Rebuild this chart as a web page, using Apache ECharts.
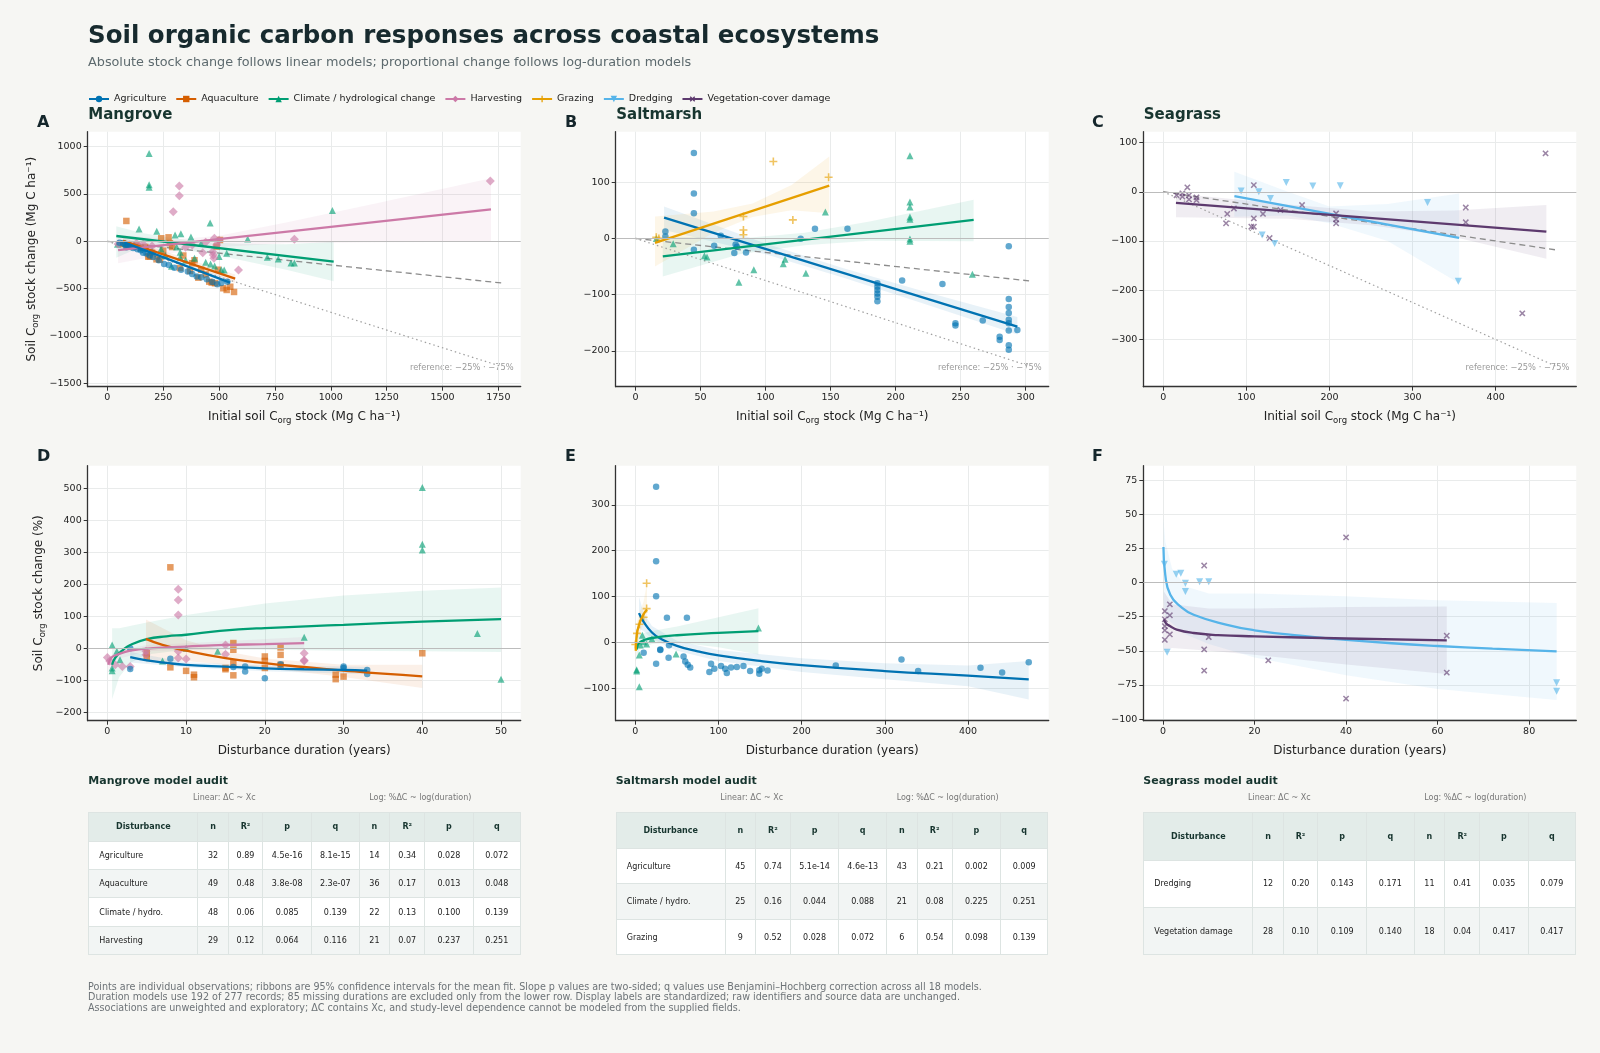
<!DOCTYPE html>
<html>
<head>
<meta charset="utf-8">
<title>Soil organic carbon responses across coastal ecosystems</title>
<script src="https://cdn.jsdelivr.net/npm/echarts@6.0.0/dist/echarts.min.js"></script>
<style>
  html, body { margin: 0; padding: 0; background: #f6f6f3; }
  body { width: 1600px; height: 1053px; position: relative; overflow: hidden; font-family: "DejaVu Sans", sans-serif; }
  #chart { position: absolute; left: 0; top: 0; width: 1600px; height: 1053px; }
  .audit { position: absolute; top: 770px; width: 432px; height: 190px; }
  .audit .ttl { position: absolute; left: 0; top: 4px; font-size: 11px; line-height: 14px; font-weight: bold; color: #17352f; white-space: nowrap; }
  .audit .cap { position: absolute; top: 23px; width: 180px; text-align: center; font-size: 8px; line-height: 10px; color: #777; }
  .audit table { position: absolute; left: 0; top: 42.3px; width: 432px; height: 143px; border-collapse: collapse; table-layout: fixed; }
  .audit th, .audit td { border: 1px solid #dde4e2; font-size: 8px; text-align: center; padding: 0; }
  .audit th { background: #e3ece9; color: #17352f; font-weight: bold; }
  .audit td { color: #222; background: #fff; }
  .audit tr.alt td { background: #f2f5f4; }
  .audit td.name { text-align: left; padding-left: 10px; }
  #foot { position: absolute; left: 88px; top: 981.5px; font-size: 9.6px; line-height: 10.5px; color: #6d7377; white-space: nowrap; }
</style>
</head>
<body>
<div id="chart"></div>
<div id="audits"></div>
<div id="foot">
  Points are individual observations; ribbons are 95% confidence intervals for the mean fit. Slope p values are two-sided; q values use Benjamini–Hochberg correction across all 18 models.<br>
  Duration models use 192 of 277 records; 85 missing durations are excluded only from the lower row. Display labels are standardized; raw identifiers and source data are unchanged.<br>
  Associations are unweighted and exploratory; ΔC contains Xc, and study-level dependence cannot be modeled from the supplied fields.
</div>
<script>
// ---------------- data ----------------
var legendNames = ['Agriculture', 'Aquaculture', 'Climate / hydrological change', 'Harvesting', 'Grazing', 'Dredging', 'Vegetation-cover damage'];
var legendKeys = ['agri', 'aqua', 'clim', 'harv', 'graz', 'dredge', 'veg'];

// A - Mangrove, absolute change vs initial stock
var mgAgriPts = [[55,-14],[70,-20],[80,-35],[85,-63],[95,-45],[105,-55],[115,-70],[125,-60],[135,-85],[150,-95],[160,-120],[175,-130],[190,-150],[205,-165],[230,-200],[254,-239],[275,-250],[300,-280],[330,-300],[360,-320],[380,-345],[400,-373],[420,-380],[445,-400],[470,-430],[492,-454],[510,-440],[537,-426]];
var mgAquaPts = [[85,215],[70,-30],[90,-40],[110,-50],[130,-45],[150,-70],[170,-60],[183,-162],[190,-160],[200,-120],[220,-190],[235,-194],[241,32],[250,-100],[274,42],[280,-20],[290,-60],[325,-282],[340,-150],[370,-313],[380,-232],[390,-200],[407,-384],[420,-300],[440,-350],[456,-426],[467,-436],[482,-443],[489,-56],[495,-300],[504,14],[519,-496],[534,-514],[550,-480],[567,-535]];
var mgClimPts = [[45,-30],[80,-20],[120,-40],[142,130],[160,-70],[187,929],[187,597],[187,572],[200,-100],[221,105],[240,-80],[260,-150],[287,-263],[303,67],[310,-60],[326,-116],[326,-168],[329,81],[350,-200],[374,46],[390,-180],[420,-20],[440,-220],[460,193],[462,-239],[480,-260],[500,-160],[510,-300],[523,-303],[534,-127],[628,25],[716,-168],[765,-186],[822,-228],[837,-228],[1007,326]];
var mgHarvPts = [[48,-28],[100,-40],[130,-20],[160,-30],[200,-50],[295,313],[322,584],[322,482],[350,-63],[380,-40],[427,-120],[440,-10],[471,-109],[474,-144],[477,-180],[479,32],[489,-39],[500,10],[587,-303],[837,21],[1714,637]];
var mgAgriFit = [[75,-11],[549,-436]];
var mgAquaFit = [[70,4],[572,-394]];
var mgClimFit = [[40,56],[1013,-215]];
var mgHarvFit = [[48,-92],[1717,338]];
var mgAgriBand = [[75,-40,20],[300,-225,-190],[549,-470,-400]];
var mgAquaBand = [[70,-30,40],[300,-180,-140],[572,-440,-350]];
var mgClimBand = [[40,-175,158],[150,-60,90],[300,-75,30],[450,-130,-10],[600,-200,-25],[800,-300,-30],[1013,-421,-5]];
var mgHarvBand = [[48,-232,67],[300,-120,20],[500,-60,60],[800,-20,200],[1200,-10,400],[1717,-4,665]];
var mgRef25 = [[0,0],[1766,-441]];
var mgRef75 = [[0,0],[1766,-1324]];

// B - Saltmarsh
var smAgriPts = [[23,12.5],[23,3.6],[44.9,152],[44.9,80],[44.9,45],[44.9,-20],[60.5,-13],[65.6,4.8],[76,-26],[77,-11],[78,-15],[85,-25],[127,-0.6],[138,17],[163,17],[186,-80],[186,-86],[186,-92],[186,-98],[186,-104],[186,-112],[205,-75],[236,-81],[246,-151],[246,-155],[267,-146],[280,-175],[280,-181],[287,-14],[287,-108],[287,-122],[287,-133],[287,-145],[287,-151],[287,-164],[287,-190],[287,-198],[293.6,-163]];
var smClimPts = [[16,0],[29,-9.5],[53,-31],[55,-33],[79.5,-78],[91,-56],[113.6,-45],[115,-37],[131,-62],[146,47],[211,147],[211,65],[211,56],[211,38],[211,34],[211,-1],[211,-5],[259,-64]];
var smGrazPts = [[16,2],[18,0],[83,39],[83,15],[83,6.5],[106,137],[121,33],[148.5,109]];
var smAgriFit = [[22,37],[293.6,-157]];
var smClimFit = [[21,-32],[260,33]];
var smGrazFit = [[15,-8],[149,94]];
var smAgriBand = [[22,15,57],[100,-28,-9],[160,-70,-53],[220,-115,-93],[293.6,-171,-140]];
var smClimBand = [[21,-68,4],[80,-28,0],[130,-12,10],[180,-4,30],[260,-5,69]];
var smGrazBand = [[15,-50,39],[60,10,48],[90,38,62],[120,50,95],[149,45,146]];
var smRef25 = [[0,0],[302.6,-75.6]];
var smRef75 = [[0,0],[302.6,-227]];

// C - Seagrass
var sgDredgePts = [[93.7,1.4],[115,0],[119,-88],[129,-13.6],[134,-105],[148,19],[180,11.5],[213,12],[318,-22],[355,-182]];
var sgVegPts = [[16,-7],[23,-3.4],[23,-10],[29,9],[31,-7],[31,-15.6],[40,-11.5],[40,-17],[75.6,-64],[77,-45],[85,-34],[106,-71],[109,13.6],[109,-54],[109,-71],[120,-45],[128,-94],[141,-37],[167,-27],[208,-44],[208,-56],[208,-64],[364,-32],[364,-62],[432,-247],[460,78]];
var sgDredgeFit = [[85.6,-8.8],[356,-93.6]];
var sgVegFit = [[15.3,-22.4],[461,-81]];
var sgDredgeBand = [[85.6,-51,40.7],[150,-48,0],[200,-64,-30],[270,-100,-25],[356,-186,-3.4]];
var sgVegBand = [[15.3,-52,-3.4],[150,-55,-26],[250,-68,-40],[350,-92,-38],[461,-136,-27]];
var sgRef25 = [[0,0],[472,-118]];
var sgRef75 = [[0,0],[472,-354]];

// D - Mangrove, % change vs duration
var mdAgriPts = [[2.9,0],[2.9,-65],[8,-33],[16,-59],[17.5,-57],[17.5,-73],[20,-94],[22,-50],[30,-57],[30,-62],[33,-68],[33,-81]];
var mdAquaPts = [[5,-16],[5,-29],[8,253],[8,-60],[10,-71],[11,-83],[11,-91],[15,-62],[15,-66],[16,16],[16,-5],[16,-47],[16,-85],[20,-26],[20,-40],[20,-62],[22,2],[22,-21],[22,-52],[29,-83],[29,-97],[30,-89],[40,-16]];
var mdClimPts = [[0.6,10],[0.6,-62],[0.6,-71],[1.2,-10],[1.6,-36],[7,-40],[10,0],[14,-10],[25,34],[40,503],[40,325],[40,307],[47,46],[50,-97]];
var mdHarvPts = [[0,-29],[0.3,-40],[1,-52],[1.9,-57],[2.9,-57],[4.9,-21],[4.9,-10],[9,184],[9,151],[9,104],[9,-10],[9,-31],[10,-34],[15,10],[15,-19],[25,-16],[25,-40],[25,-38]];
var mdAgriFit = [[2.9,-28],[5,-38],[7.5,-46],[10,-52],[15,-58],[20,-63],[25,-66],[30,-68],[33,-70]];
var mdAquaFit = [[4.9,29],[7,10],[10,-8],[15,-31],[20,-47],[25,-59],[30,-70],[35,-80],[40,-88]];
var mdClimFit = [[0.6,-52],[1,-30],[2,-5],[2.9,10],[5,28],[7.5,37],[10,42],[14.3,54],[20,63],[30,73],[40,83],[50,91]];
var mdHarvFit = [[0.1,-52],[0.5,-30],[1.2,-21],[2.9,-8],[5.8,0],[10,5],[15,10],[20,12.5],[25,16]];
var mdAgriBand = [[2.9,-45,-12],[10,-60,-44],[20,-72,-54],[33,-82,-58]];
var mdAquaBand = [[4.9,-45,90],[10,-40,25],[15,-52,-10],[20,-62,-32],[30,-90,-52],[40,-125,-52]];
var mdClimBand = [[0.6,-160,62],[1.5,-90,62],[3,-45,70],[5,-20,80],[10,-5,104],[20,-5,140],[30,-8,165],[40,-10,180],[50,-12,190]];
var mdHarvBand = [[0.1,-75,-30],[1.2,-35,-8],[5,-10,10],[10,-5,15],[25,-2,35]];

// E - Saltmarsh, % change vs duration
var seAgriPts = [[10,-22],[25,339],[25,177],[25,101],[25,-46],[30,-15],[30,-16],[38,54],[40,-33],[40.5,-6],[58,-30],[60,-41],[62,54],[63,-48],[66,-54],[89,-64],[91,-46],[95,-57],[103,-51],[108,-57],[110,-66],[115,-54],[122,-53],[130,-51],[138,-62],[149,-60],[149,-68],[152,-57],[159,-61],[241,-50],[320,-37],[340,-62],[415,-55],[441,-65],[473,-43]];
var seClimPts = [[1.6,-59],[1.6,-62],[4.8,-96],[4.8,-27],[6,-5],[8.4,16],[10,2],[13.6,-3],[20,8],[49,-25],[148,32]];
var seGrazPts = [[0,-4],[2,20],[5,40],[10,55],[13.6,129],[13.6,74]];
var seAgriFit = [[4.4,64],[10,45],[20,22],[30,9],[50,-7],[75,-19],[100,-28],[150,-40],[200,-49],[300,-62],[400,-72],[473,-80]];
var seClimFit = [[1.5,-15],[3,-5],[5,0],[10,5],[20,10],[50,16],[100,21],[148,25]];
var seGrazFit = [[0.5,-18],[1,0],[2,20],[5,42],[10,62],[14,72]];
var seAgriBand = [[4.4,30,100],[10,25,65],[20,8,36],[50,-18,4],[100,-40,-16],[200,-64,-34],[300,-80,-45],[400,-95,-50],[473,-124,-40]];
var seClimBand = [[1.5,-40,30],[5,-15,18],[20,-3,25],[50,0,35],[100,-10,55],[148,-26,75]];
var seGrazBand = [[0.5,-45,10],[2,-5,45],[5,20,65],[10,40,90],[14,45,130]];

// F - Seagrass, % change vs duration
var sfDredgePts = [[0.3,13.4],[0.9,-51],[2.9,6],[3.9,6.8],[4.9,-0.5],[4.9,-6.6],[8,0.5],[10,0.5],[86,-73.5],[86,-79.6]];
var sfVegPts = [[0.4,-21],[0.4,-27],[0.4,-32],[0.4,-35],[0.4,-42],[1.5,-16],[1.5,-24],[1.5,-38],[9,12.4],[9,-49],[9,-64.5],[10,-40],[23,-57],[40,33],[40,-85],[62,-39],[62,-66]];
var sfDredgeFit = [[0.1,26],[0.5,5.6],[1.6,-9],[3.8,-17.5],[6.7,-23.6],[14,-31],[20,-35],[30,-39],[40,-42],[50,-44.5],[60,-46.5],[72,-48.5],[86,-50.5]];
var sfVegFit = [[0.2,-27],[0.7,-30],[1.6,-32],[3,-34.5],[6.7,-37],[12,-38.5],[20,-39.4],[40,-41],[62,-42.4]];
var sfDredgeBand = [[0.1,-12,47],[0.5,-25,30],[2,-30,10],[5,-38,-3],[10,-45,-8],[20,-55,-8],[40,-68,-10],[60,-78,-13],[86,-86,-15]];
var sfVegBand = [[0.2,-50,-6.6],[2,-48,-16],[10,-50,-19],[20,-53,-19],[40,-60,-18],[62,-67,-17.5]];

// tick labels
var ticksAx = [0,250,500,750,1000,1250,1500,1750], ticksAy = [-1500,-1000,-500,0,500,1000];
var ticksBx = [0,50,100,150,200,250,300], ticksBy = [-200,-100,0,100];
var ticksCx = [0,100,200,300,400], ticksCy = [-300,-200,-100,0,100];
var ticksDx = [0,10,20,30,40,50], ticksDy = [-200,-100,0,100,200,300,400,500];
var ticksEx = [0,100,200,300,400], ticksEy = [-100,0,100,200,300];
var ticksFx = [0,20,40,60,80], ticksFy = [-100,-75,-50,-25,0,25,50,75];

// audit tables
var auditHead = ['Disturbance','n','R²','p','q','n','R²','p','q'];
var mangroveAudit = [
  ['Agriculture','32','0.89','4.5e-16','8.1e-15','14','0.34','0.028','0.072'],
  ['Aquaculture','49','0.48','3.8e-08','2.3e-07','36','0.17','0.013','0.048'],
  ['Climate / hydro.','48','0.06','0.085','0.139','22','0.13','0.100','0.139'],
  ['Harvesting','29','0.12','0.064','0.116','21','0.07','0.237','0.251']
];
var saltmarshAudit = [
  ['Agriculture','45','0.74','5.1e-14','4.6e-13','43','0.21','0.002','0.009'],
  ['Climate / hydro.','25','0.16','0.044','0.088','21','0.08','0.225','0.251'],
  ['Grazing','9','0.52','0.028','0.072','6','0.54','0.098','0.139']
];
var seagrassAudit = [
  ['Dredging','12','0.20','0.143','0.171','11','0.41','0.035','0.079'],
  ['Vegetation damage','28','0.10','0.109','0.140','18','0.04','0.417','0.417']
];

// ---------------- styles ----------------
var FONT = '"DejaVu Sans", sans-serif';
var plusPath = 'path://M4,0h2v4h4v2h-4v4h-2v-4h-4v-2h4z';
var look = {
  agri:   { color: '#0072B2', symbol: 'circle',   size: 6.5, rotate: 0 },
  aqua:   { color: '#D55E00', symbol: 'rect',     size: 6.5, rotate: 0 },
  clim:   { color: '#009E73', symbol: 'triangle', size: 7,   rotate: 0 },
  harv:   { color: '#CC79A7', symbol: 'diamond',  size: 9,   rotate: 0 },
  graz:   { color: '#E69F00', symbol: plusPath,   size: 8,   rotate: 0 },
  dredge: { color: '#56B4E9', symbol: 'triangle', size: 7,   rotate: 180 },
  veg:    { color: '#5D3A6E', symbol: plusPath,   size: 7.5, rotate: 45 }
};

var colLeft = [87.7, 615.7, 1143.3];
var rowTop = [131.7, 465.7];
var gridW = 433, gridH = 255;

var panels = [
  { letter: 'A', title: 'Mangrove',  row: 0, col: 0, x: [-88, 1850], y: [-1536, 1158], xt: ticksAx, yt: ticksAy, refs: [mgRef25, mgRef75],
    groups: [['aqua', mgAquaPts, mgAquaFit, mgAquaBand], ['clim', mgClimPts, mgClimFit, mgClimBand], ['harv', mgHarvPts, mgHarvFit, mgHarvBand], ['agri', mgAgriPts, mgAgriFit, mgAgriBand]] },
  { letter: 'B', title: 'Saltmarsh', row: 0, col: 1, x: [-15.2, 317.7], y: [-264, 190], xt: ticksBx, yt: ticksBy, refs: [smRef25, smRef75],
    groups: [['agri', smAgriPts, smAgriFit, smAgriBand], ['clim', smClimPts, smClimFit, smClimBand], ['graz', smGrazPts, smGrazFit, smGrazBand]] },
  { letter: 'C', title: 'Seagrass',  row: 0, col: 2, x: [-24, 497], y: [-396, 122], xt: ticksCx, yt: ticksCy, refs: [sgRef25, sgRef75],
    groups: [['dredge', sgDredgePts, sgDredgeFit, sgDredgeBand], ['veg', sgVegPts, sgVegFit, sgVegBand]] },
  { letter: 'D', row: 1, col: 0, x: [-2.5, 52.5], y: [-227, 571], xt: ticksDx, yt: ticksDy, refs: [],
    groups: [['clim', mdClimPts, mdClimFit, mdClimBand], ['aqua', mdAquaPts, mdAquaFit, mdAquaBand], ['harv', mdHarvPts, mdHarvFit, mdHarvBand], ['agri', mdAgriPts, mdAgriFit, mdAgriBand]] },
  { letter: 'E', row: 1, col: 1, x: [-23.6, 497], y: [-170, 385], xt: ticksEx, yt: ticksEy, refs: [],
    groups: [['agri', seAgriPts, seAgriFit, seAgriBand], ['clim', seClimPts, seClimFit, seClimBand], ['graz', seGrazPts, seGrazFit, seGrazBand]] },
  { letter: 'F', row: 1, col: 2, x: [-4.3, 90.3], y: [-101.2, 85.5], xt: ticksFx, yt: ticksFy, refs: [],
    groups: [['dredge', sfDredgePts, sfDredgeFit, sfDredgeBand], ['veg', sfVegPts, sfVegFit, sfVegBand]] }
];

function fmt(v) { return v < 0 ? '\u2212' + Math.abs(v) : String(v); }

var nameRich = {
  n:   { fontSize: 12, fontFamily: FONT, color: '#222', lineHeight: 18 },
  sub: { fontSize: 8.5, fontFamily: FONT, color: '#222', lineHeight: 12, verticalAlign: 'bottom' }
};
var stockName = '{n|Initial soil C}{sub|org}{n| stock (Mg C ha\u207b\u00b9)}';

function baseAxis(range, ticks) {
  return {
    type: 'value', min: range[0], max: range[1],
    axisLine: { show: true, onZero: false, lineStyle: { color: '#333', width: 1.3 } },
    axisTick: { show: true, length: 4, customValues: ticks, lineStyle: { color: '#333', width: 1 } },
    axisLabel: { customValues: ticks, formatter: fmt, fontSize: 9.5, fontFamily: FONT, color: '#222', margin: 6 },
    splitLine: { show: true, lineStyle: { color: '#e9ebeb', width: 1 } },
    nameTextStyle: { rich: nameRich }
  };
}

var grids = [], xAxes = [], yAxes = [], series = [], graphics = [];

// legend-only series
legendKeys.forEach(function (k, i) {
  var s = look[k];
  series.push({
    type: 'line', name: legendNames[i], xAxisIndex: 0, yAxisIndex: 0, data: [],
    symbol: s.symbol, symbolSize: 7, symbolRotate: s.rotate, showSymbol: true,
    itemStyle: { color: s.color }, lineStyle: { color: s.color, width: 2 }
  });
});

function bandSeries(gi, rows, color) {
  return {
    type: 'custom', xAxisIndex: gi, yAxisIndex: gi, silent: true, z: 1, clip: true,
    data: rows, encode: { x: 0, y: [1, 2] },
    renderItem: function (params, api) {
      if (params.dataIndex !== 0) return null;
      var top = rows.map(function (r) { return api.coord([r[0], r[2]]); });
      var bot = rows.slice().reverse().map(function (r) { return api.coord([r[0], r[1]]); });
      return { type: 'polygon', shape: { points: top.concat(bot) }, style: { fill: color, opacity: 0.09 } };
    }
  };
}

panels.forEach(function (p, gi) {
  var left = colLeft[p.col], top = rowTop[p.row];
  grids.push({ left: left, top: top, width: gridW, height: gridH, show: true, backgroundColor: '#ffffff', borderWidth: 0, outerBoundsMode: 'none' });

  var xa = baseAxis(p.x, p.xt); xa.gridIndex = gi;
  xa.name = p.row === 0 ? stockName : '{n|Disturbance duration (years)}';
  xa.nameLocation = 'middle'; xa.nameGap = 21;
  xAxes.push(xa);

  var ya = baseAxis(p.y, p.yt); ya.gridIndex = gi;
  if (p.col === 0) {
    ya.name = p.row === 0 ? '{n|Soil C}{sub|org}{n| stock change (Mg C ha\u207b\u00b9)}' : '{n|Soil C}{sub|org}{n| stock change (%)}';
    ya.nameLocation = 'middle'; ya.nameGap = p.row === 0 ? 47 : 40;
  }
  yAxes.push(ya);

  p.groups.forEach(function (g) {
    series.push(bandSeries(gi, g[3], look[g[0]].color));
  });

  if (p.refs.length) {
    series.push({ type: 'line', xAxisIndex: gi, yAxisIndex: gi, data: p.refs[0], symbol: 'none', silent: true, z: 2,
      lineStyle: { color: '#8c8c8c', width: 1.3, type: [6, 4] } });
    series.push({ type: 'line', xAxisIndex: gi, yAxisIndex: gi, data: p.refs[1], symbol: 'none', silent: true, z: 2,
      lineStyle: { color: '#a0a0a0', width: 1.2, type: [1.5, 3] } });
  }

  p.groups.forEach(function (g, j) {
    var s = look[g[0]];
    var sc = {
      type: 'scatter', xAxisIndex: gi, yAxisIndex: gi, data: g[1], silent: true, z: 3,
      symbol: s.symbol, symbolSize: s.size, symbolRotate: s.rotate,
      itemStyle: { color: s.color, opacity: 0.62 }
    };
    if (j === 0) {
      sc.markLine = { silent: true, symbol: 'none', label: { show: false }, animation: false,
        lineStyle: { color: '#bcbcbc', width: 1.2, type: 'solid' }, data: [{ yAxis: 0 }] };
    }
    series.push(sc);
  });

  p.groups.forEach(function (g) {
    series.push({ type: 'line', xAxisIndex: gi, yAxisIndex: gi, data: g[2], smooth: true, symbol: 'none', silent: true, z: 4,
      lineStyle: { color: look[g[0]].color, width: 2.3 } });
  });

  // panel letter and title
  var lx = [37, 565, 1092][p.col];
  graphics.push({ type: 'text', x: lx, y: p.row === 0 ? 123 : 457,
    style: { text: p.letter, font: 'bold 16px ' + FONT, fill: '#15262b', verticalAlign: 'middle', textVerticalAlign: 'middle' } });
  if (p.title) {
    graphics.push({ type: 'text', x: left + 0.5, y: 115,
      style: { text: p.title, font: 'bold 15px ' + FONT, fill: '#17352f', verticalAlign: 'middle', textVerticalAlign: 'middle' } });
  }
  if (p.refs.length) {
    graphics.push({ type: 'text', x: left + gridW - 7, y: 368,
      style: { text: 'reference: \u221225% \u00b7 \u221275%', font: '8.3px ' + FONT, fill: '#9a9a9a',
        align: 'right', textAlign: 'right', verticalAlign: 'middle', textVerticalAlign: 'middle' } });
  }
});

graphics.push({ type: 'text', x: 88, y: 37,
  style: { text: 'Soil organic carbon responses across coastal ecosystems', font: 'bold 24.5px ' + FONT, fill: '#172a2e', verticalAlign: 'middle', textVerticalAlign: 'middle' } });
graphics.push({ type: 'text', x: 88, y: 63,
  style: { text: 'Absolute stock change follows linear models; proportional change follows log-duration models', font: '12.8px ' + FONT, fill: '#5d6a6e', verticalAlign: 'middle', textVerticalAlign: 'middle' } });

var chart = echarts.init(document.getElementById('chart'), null, { renderer: 'canvas' });
chart.setOption({
  animation: false,
  backgroundColor: '#f6f6f3',
  textStyle: { fontFamily: FONT },
  legend: {
    data: legendNames, left: 88, top: 94, padding: 0, itemWidth: 20, itemHeight: 8, itemGap: 9,
    textStyle: { fontSize: 9.5, color: '#222', fontFamily: FONT }, selectedMode: false
  },
  grid: grids,
  xAxis: xAxes,
  yAxis: yAxes,
  series: series,
  graphic: graphics
});

// audit tables
function auditHtml(title, rows, left) {
  var html = '<div class="audit" style="left:' + left + 'px">';
  html += '<div class="ttl">' + title + '</div>';
  html += '<div class="cap" style="left:' + (136 - 90) + 'px">Linear: \u0394C ~ Xc</div>';
  html += '<div class="cap" style="left:' + (332 - 90) + 'px">Log: %\u0394C ~ log(duration)</div>';
  html += '<table><colgroup>';
  [109, 30.4, 34.6, 48.7, 47.7, 30.6, 35, 48.4, 47.3].forEach(function (w) { html += '<col style="width:' + w + 'px">'; });
  html += '</colgroup><tr>';
  auditHead.forEach(function (h) { html += '<th>' + h + '</th>'; });
  html += '</tr>';
  rows.forEach(function (r, i) {
    html += '<tr' + (i % 2 ? ' class="alt"' : '') + '>';
    r.forEach(function (c, j) { html += '<td' + (j === 0 ? ' class="name"' : '') + '>' + c + '</td>'; });
    html += '</tr>';
  });
  html += '</table></div>';
  return html;
}
document.getElementById('audits').innerHTML =
  auditHtml('Mangrove model audit', mangroveAudit, 88.3) +
  auditHtml('Saltmarsh model audit', saltmarshAudit, 615.7) +
  auditHtml('Seagrass model audit', seagrassAudit, 1143.3);
</script>
</body>
</html>
